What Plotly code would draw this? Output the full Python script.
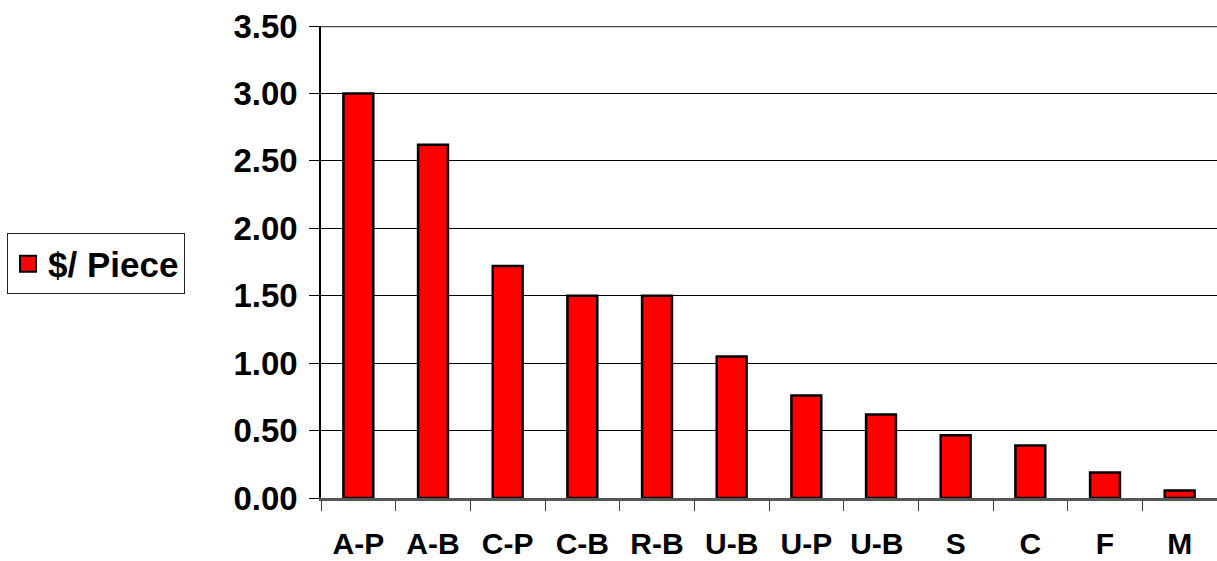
import plotly.graph_objects as go

categories = ["A-P", "A-B", "C-P", "C-B", "R-B", "U-B", "U-P", "U-B ", "S", "C", "F", "M"]
values = [3.00, 2.62, 1.72, 1.50, 1.50, 1.05, 0.76, 0.62, 0.465, 0.39, 0.19, 0.055]
series_name = "$/ Piece"
y_ticks = [0, 0.5, 1.0, 1.5, 2.0, 2.5, 3.0, 3.5]

FONT = "Liberation Sans, Arial, sans-serif"

fig = go.Figure()
fig.add_trace(go.Bar(
    x=categories, y=values, name=series_name, showlegend=False,
    marker=dict(color="#FF0000", line=dict(color="black", width=2.5)),
    width=0.40,
))
fig.add_trace(go.Scatter(
    x=[None], y=[None], mode="markers", name=series_name,
    marker=dict(symbol="square", size=22, color="#FF0000",
                line=dict(color="black", width=2)),
))

fig.update_layout(
    width=1217, height=561,
    margin=dict(l=321, r=0, t=26, b=63),
    paper_bgcolor="white", plot_bgcolor="white",
    font=dict(family=FONT, size=30, color="black", weight="bold"),
    legend=dict(x=-0.3504, xanchor="left", y=0.496, yanchor="middle",
                bordercolor="#222222", borderwidth=1, bgcolor="white",
                font=dict(family=FONT, size=35, color="black", weight="bold"),
                itemwidth=30),
    bargap=0.59,
)
fig.update_yaxes(
    range=[0, 3.5], tickvals=y_ticks, tickformat=".2f",
    showgrid=True, gridcolor="black", gridwidth=1,
    showline=True, linecolor="black", linewidth=1.5,
    ticks="outside", ticklen=10, tickcolor="black", tickwidth=1,
    tickfont=dict(family=FONT, size=33, color="black", weight="bold"),
    ticklabelstandoff=5,
    zeroline=False, fixedrange=True, automargin=False,
)
fig.update_xaxes(
    type="category", tickson="boundaries",
    showline=True, linecolor="#555555", linewidth=2.5,
    ticks="outside", ticklen=10, tickcolor="#444444", tickwidth=1,
    tickfont=dict(family=FONT, size=30, color="black", weight="bold"),
    ticklabelstandoff=17, showgrid=False, automargin=False,
)
fig.add_shape(type="line", xref="paper", yref="y", x0=0, x1=1, y0=3.5, y1=3.5,
              line=dict(color="#444444", width=2.5))
fig.write_html("out.html", config={"displayModeBar": False},
               post_script="document.body.style.margin='0';document.body.style.overflow='hidden';")
